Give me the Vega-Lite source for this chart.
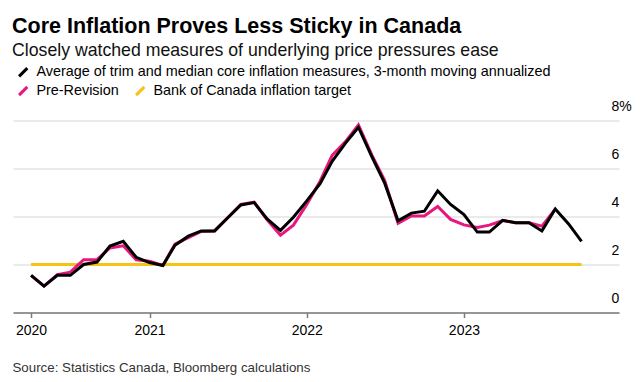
{
  "$schema": "https://vega.github.io/schema/vega-lite/v6.json",
  "width": 606,
  "height": 192,
  "autosize": {"type": "none"},
  "padding": {"left": 13, "top": 120.5, "right": 24, "bottom": 69.5},
  "background": "#ffffff",
  "config": {
    "view": {"stroke": null},
    "font": "Liberation Sans"
  },
  "title": {
    "text": "Core Inflation Proves Less Sticky in Canada",
    "subtitle": "Closely watched measures of underlying price pressures ease",
    "anchor": "start",
    "frame": "group",
    "font": "Liberation Sans",
    "fontSize": 21.5,
    "fontWeight": "bold",
    "color": "#000000",
    "subtitleFont": "Liberation Sans",
    "subtitleFontSize": 17.7,
    "subtitleColor": "#111111",
    "subtitlePadding": 5,
    "offset": 5,
    "dx": -1
  },
  "datasets": {
    "avg": [
      {"date": "2020-04-01", "value": 1.55},
      {"date": "2020-05-01", "value": 1.1},
      {"date": "2020-06-01", "value": 1.55},
      {"date": "2020-07-01", "value": 1.55},
      {"date": "2020-08-01", "value": 2.0},
      {"date": "2020-09-01", "value": 2.1},
      {"date": "2020-10-01", "value": 2.77},
      {"date": "2020-11-01", "value": 2.97},
      {"date": "2020-12-01", "value": 2.3},
      {"date": "2021-01-01", "value": 2.08},
      {"date": "2021-02-01", "value": 1.96},
      {"date": "2021-03-01", "value": 2.8},
      {"date": "2021-04-01", "value": 3.18},
      {"date": "2021-05-01", "value": 3.4},
      {"date": "2021-06-01", "value": 3.4},
      {"date": "2021-07-01", "value": 3.94},
      {"date": "2021-08-01", "value": 4.48},
      {"date": "2021-09-01", "value": 4.58},
      {"date": "2021-10-01", "value": 3.9},
      {"date": "2021-11-01", "value": 3.42},
      {"date": "2021-12-01", "value": 3.97},
      {"date": "2022-01-01", "value": 4.65},
      {"date": "2022-02-01", "value": 5.37},
      {"date": "2022-03-01", "value": 6.3},
      {"date": "2022-04-01", "value": 7.06},
      {"date": "2022-05-01", "value": 7.72},
      {"date": "2022-06-01", "value": 6.5},
      {"date": "2022-07-01", "value": 5.39},
      {"date": "2022-08-01", "value": 3.82},
      {"date": "2022-09-01", "value": 4.14},
      {"date": "2022-10-01", "value": 4.22},
      {"date": "2022-11-01", "value": 5.07},
      {"date": "2022-12-01", "value": 4.5},
      {"date": "2023-01-01", "value": 4.08},
      {"date": "2023-02-01", "value": 3.35},
      {"date": "2023-03-01", "value": 3.35},
      {"date": "2023-04-01", "value": 3.84},
      {"date": "2023-05-01", "value": 3.74},
      {"date": "2023-06-01", "value": 3.74},
      {"date": "2023-07-01", "value": 3.4},
      {"date": "2023-08-01", "value": 4.31},
      {"date": "2023-09-01", "value": 3.69},
      {"date": "2023-10-01", "value": 2.96}
    ],
    "pre": [
      {"date": "2020-04-01", "value": 1.55},
      {"date": "2020-05-01", "value": 1.1},
      {"date": "2020-06-01", "value": 1.58},
      {"date": "2020-07-01", "value": 1.68},
      {"date": "2020-08-01", "value": 2.2},
      {"date": "2020-09-01", "value": 2.2},
      {"date": "2020-10-01", "value": 2.69},
      {"date": "2020-11-01", "value": 2.78},
      {"date": "2020-12-01", "value": 2.2},
      {"date": "2021-01-01", "value": 2.14},
      {"date": "2021-02-01", "value": 1.96},
      {"date": "2021-03-01", "value": 2.85},
      {"date": "2021-04-01", "value": 3.12},
      {"date": "2021-05-01", "value": 3.38},
      {"date": "2021-06-01", "value": 3.4},
      {"date": "2021-07-01", "value": 3.94},
      {"date": "2021-08-01", "value": 4.5},
      {"date": "2021-09-01", "value": 4.6},
      {"date": "2021-10-01", "value": 3.86},
      {"date": "2021-11-01", "value": 3.22},
      {"date": "2021-12-01", "value": 3.64},
      {"date": "2022-01-01", "value": 4.5},
      {"date": "2022-02-01", "value": 5.47},
      {"date": "2022-03-01", "value": 6.55},
      {"date": "2022-04-01", "value": 7.12},
      {"date": "2022-05-01", "value": 7.82},
      {"date": "2022-06-01", "value": 6.57},
      {"date": "2022-07-01", "value": 5.5},
      {"date": "2022-08-01", "value": 3.72},
      {"date": "2022-09-01", "value": 4.02},
      {"date": "2022-10-01", "value": 4.02},
      {"date": "2022-11-01", "value": 4.42},
      {"date": "2022-12-01", "value": 3.88},
      {"date": "2023-01-01", "value": 3.65},
      {"date": "2023-02-01", "value": 3.54},
      {"date": "2023-03-01", "value": 3.64},
      {"date": "2023-04-01", "value": 3.83},
      {"date": "2023-05-01", "value": 3.74},
      {"date": "2023-06-01", "value": 3.74},
      {"date": "2023-07-01", "value": 3.6},
      {"date": "2023-08-01", "value": 4.31}
    ],
    "target": [
      {"date": "2020-04-01", "value": 2},
      {"date": "2023-10-01", "value": 2}
    ]
  },
  "encoding": {
    "x": {
      "field": "date",
      "type": "temporal",
      "scale": {
        "type": "utc",
        "domain": [
          {"year": 2020, "month": 2, "date": 19, "utc": true},
          {"year": 2023, "month": 12, "date": 27, "utc": true}
        ]
      },
      "axis": {
        "values": [
          {"year": 2020, "month": 4, "date": 1, "utc": true},
          {"year": 2021, "month": 1, "date": 1, "utc": true},
          {"year": 2022, "month": 1, "date": 1, "utc": true},
          {"year": 2023, "month": 1, "date": 1, "utc": true}
        ],
        "labelExpr": "utcFormat(datum.value, '%Y')",
        "grid": false,
        "domainColor": "#7a7a7a",
        "domainWidth": 1.5,
        "tickColor": "#7a7a7a",
        "tickWidth": 1.5,
        "tickSize": 5,
        "labelFont": "Liberation Sans",
        "labelFontSize": 14,
        "labelColor": "#000000",
        "labelPadding": 6,
        "labelFlush": false,
        "labelOverlap": false,
        "zindex": 1,
        "title": "Source: Statistics Canada, Bloomberg calculations",
        "titleFont": "Liberation Sans",
        "titleFontSize": 13.3,
        "titleFontWeight": "normal",
        "titleColor": "#333333",
        "titleAnchor": "start",
        "titleAlign": "left",
        "titleBaseline": "alphabetic",
        "titleX": -1,
        "titleY": 59
      }
    },
    "y": {
      "field": "value",
      "type": "quantitative",
      "scale": {"domain": [0, 8], "nice": false, "zero": true},
      "axis": {
        "orient": "right",
        "values": [0, 2, 4, 6, 8],
        "labelExpr": "datum.value == 8 ? '8%' : datum.label",
        "grid": true,
        "gridColor": "#e3e3e3",
        "gridWidth": 1.5,
        "domain": false,
        "ticks": false,
        "tickSize": 0,
        "labelAlign": "left",
        "labelBaseline": "alphabetic",
        "labelPadding": -8,
        "labelOffset": -10,
        "labelFont": "Liberation Sans",
        "labelFontSize": 14,
        "labelColor": "#000000",
        "title": null
      }
    }
  },
  "layer": [
    {
      "layer": [
        {
          "data": {"name": "target"},
          "mark": {"type": "line", "strokeWidth": 3, "strokeCap": "butt"},
          "encoding": {
            "color": {
              "datum": "Bank of Canada inflation target",
              "type": "nominal",
              "scale": {
                "domain": ["Pre-Revision", "Bank of Canada inflation target"],
                "range": ["#e8177f", "#f6c312"]
              },
              "legend": {
                "orient": "none",
                "legendX": 3,
                "legendY": -37,
                "direction": "horizontal",
                "title": null,
                "symbolType": "M-0.75,0.75L0.75,-0.75",
                "symbolSize": 121,
                "symbolStrokeWidth": 3,
                "labelFont": "Liberation Sans",
                "labelFontSize": 14.4,
                "labelColor": "#000000",
                "labelOffset": 6,
                "columnPadding": 11,
                "labelLimit": 600
              }
            }
          }
        },
        {
          "data": {"name": "pre"},
          "mark": {"type": "line", "strokeWidth": 3, "strokeJoin": "miter"},
          "encoding": {
            "color": {
              "datum": "Pre-Revision",
              "type": "nominal"
            }
          }
        }
      ]
    },
    {
      "data": {"name": "avg"},
      "mark": {"type": "line", "strokeWidth": 3, "strokeJoin": "miter"},
      "encoding": {
        "color": {
          "datum": "Average of trim and median core inflation measures, 3-month moving annualized",
          "type": "nominal",
          "scale": {"range": ["#000000"]},
          "legend": {
            "orient": "none",
            "legendX": 3,
            "legendY": -55.5,
            "title": null,
            "symbolType": "M-0.75,0.75L0.75,-0.75",
            "symbolSize": 121,
            "symbolStrokeWidth": 3,
            "labelFont": "Liberation Sans",
            "labelFontSize": 14.4,
            "labelColor": "#000000",
            "labelOffset": 6,
            "labelLimit": 700
          }
        }
      }
    }
  ],
  "resolve": {"scale": {"color": "independent"}}
}
